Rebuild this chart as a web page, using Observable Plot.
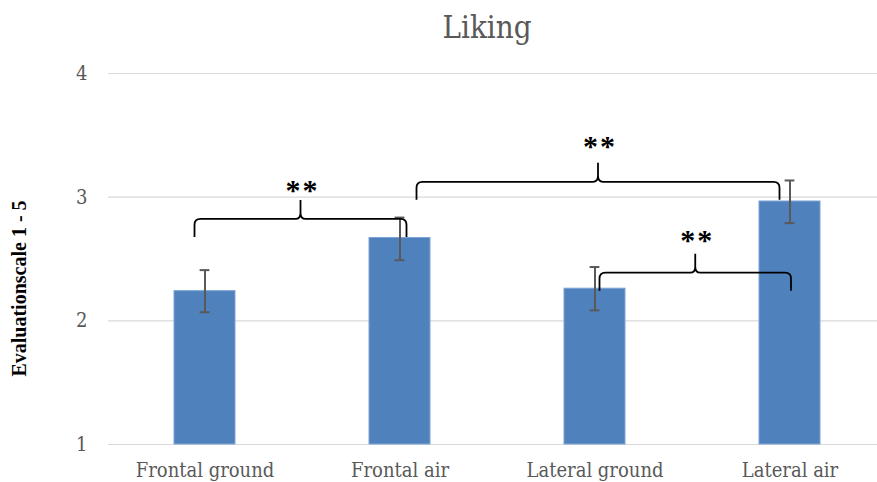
<!DOCTYPE html>
<html><head><meta charset="utf-8">
<script src="https://cdn.jsdelivr.net/npm/d3@7"></script>
<script src="https://cdn.jsdelivr.net/npm/@observablehq/plot@0.6"></script>
<style>
body{margin:0;background:#fff;}
#chart svg{font-stretch:condensed;}
</style>
</head><body><div id="chart"></div>
<script>
// ---- data ----
const categories = ["Frontal ground", "Frontal air", "Lateral ground", "Lateral air"];
const means = [2.24, 2.67, 2.26, 2.965];
const errLow = [2.07, 2.49, 2.085, 2.79];
const errHigh = [2.41, 2.835, 2.435, 3.135];
const yTicks = [1, 2, 3, 4];
const titleText = "Liking";
const yLabel = "Evaluationscale 1 - 5";
// significance braces
const braceFrom = ["Frontal ground", "Frontal air", "Lateral ground"];
const braceTo = ["Frontal air", "Lateral air", "Lateral air"];
const braceLevel = [2.82, 3.12, 2.385];
const braceLabel = ["**", "**", "**"];

// ---- layout / style (not data) ----
const braceOffFrom = [-10, 17, 5];   // px from bar centre
const braceOffTo = [7, -10, 1.5];
const starGap = [13.5, 20, 17];      // px between brace tip and star centre
const serif = "'DejaVu Serif Condensed','DejaVu Serif',serif";
const gray = "#595959";
const padInner = 0.686;
const xRange = [107.5, 887.5];
const bandwidth = (xRange[1] - xRange[0]) / 4 * (1 - padInner);
const capW = 10;

const rows = categories.map((c, i) => ({cat: c, mean: means[i], lo: errLow[i], hi: errHigh[i]}));
const braces = braceFrom.map((f, i) => ({from: f, to: braceTo[i], level: braceLevel[i], label: braceLabel[i], o0: braceOffFrom[i], o1: braceOffTo[i], gap: starGap[i]}));

function braceMark(index, scales, values, dimensions) {
  const x = scales.x, y = scales.y;
  const bw = typeof x.bandwidth === "function" ? x.bandwidth() : bandwidth;
  const g = d3.create("svg:g");
  const d = 18, r = 6, h = 19;
  for (const b of braces) {
    const x0 = x(b.from) + bw / 2 + b.o0;
    const x1 = x(b.to) + bw / 2 + b.o1;
    const yl = y(b.level);
    const xm = (x0 + x1) / 2;
    const p = `M${x0},${yl + d} L${x0},${yl + r} Q${x0},${yl} ${x0 + r},${yl} L${xm - 5},${yl} Q${xm},${yl} ${xm},${yl - 6} L${xm},${yl - h} M${xm},${yl - 6} Q${xm},${yl} ${xm + 5},${yl} L${x1 - r},${yl} Q${x1},${yl} ${x1},${yl + r} L${x1},${yl + d}`;
    g.append("path").attr("d", p).attr("fill", "none").attr("stroke", "#000").attr("stroke-width", 1.8);
    g.append("text").attr("x", xm + 2).attr("y", yl - h - b.gap + 13.5)
      .attr("text-anchor", "middle").attr("font-family", "'Liberation Serif',serif")
      .attr("font-weight", "bold").attr("font-size", 30).attr("letter-spacing", "2px")
      .attr("fill", "#000").text(b.label);
  }
  // y-axis title, centred slightly below the frame middle
  const cy = (dimensions.marginTop + dimensions.height - dimensions.marginBottom) / 2 + 30;
  g.append("text").attr("transform", `translate(26,${cy}) rotate(-90)`)
    .attr("text-anchor", "middle").attr("font-family", "'Liberation Serif',serif")
    .attr("font-weight", "bold").attr("font-size", 20).attr("fill", "#000").text(yLabel);
  return g.node();
}

const chart = Plot.plot({
  width: 877,
  height: 482,
  marginTop: 73,
  marginBottom: 38,
  marginLeft: 108,
  marginRight: 0,
  style: {fontFamily: serif, background: "#fff", overflow: "visible"},
  x: {domain: categories, range: xRange, paddingInner: padInner, paddingOuter: padInner / 2, label: null},
  y: {domain: [1, 4], label: null},
  marks: [
    Plot.ruleY(yTicks, {stroke: "#d9d9d9", strokeWidth: 1.2}),
    Plot.barY(rows, {x: "cat", y1: 1, y2: "mean", fill: "#4f81bd", stroke: "#7ea4d6", strokeWidth: 1}),
    Plot.ruleX(rows, {x: "cat", y1: "lo", y2: "hi", stroke: gray, strokeWidth: 2}),
    Plot.tickY(rows, {x: "cat", y: "hi", stroke: gray, strokeWidth: 2, insetLeft: (bandwidth - capW) / 2, insetRight: (bandwidth - capW) / 2}),
    Plot.tickY(rows, {x: "cat", y: "lo", stroke: gray, strokeWidth: 2, insetLeft: (bandwidth - capW) / 2, insetRight: (bandwidth - capW) / 2}),
    Plot.axisY(yTicks, {tickSize: 0, tickPadding: 21, tickFormat: d => String(d), fontSize: 20, fill: gray, fontFamily: serif}),
    Plot.axisX({tickSize: 0, tickPadding: 18, fontSize: 20, fill: gray, fontFamily: serif}),
    Plot.text([titleText], {frameAnchor: "top", dy: -58, dx: -6, fontSize: 31, fill: gray, fontFamily: serif}),
    braceMark
  ]
});
document.getElementById("chart").append(chart);
</script>
</body></html>
